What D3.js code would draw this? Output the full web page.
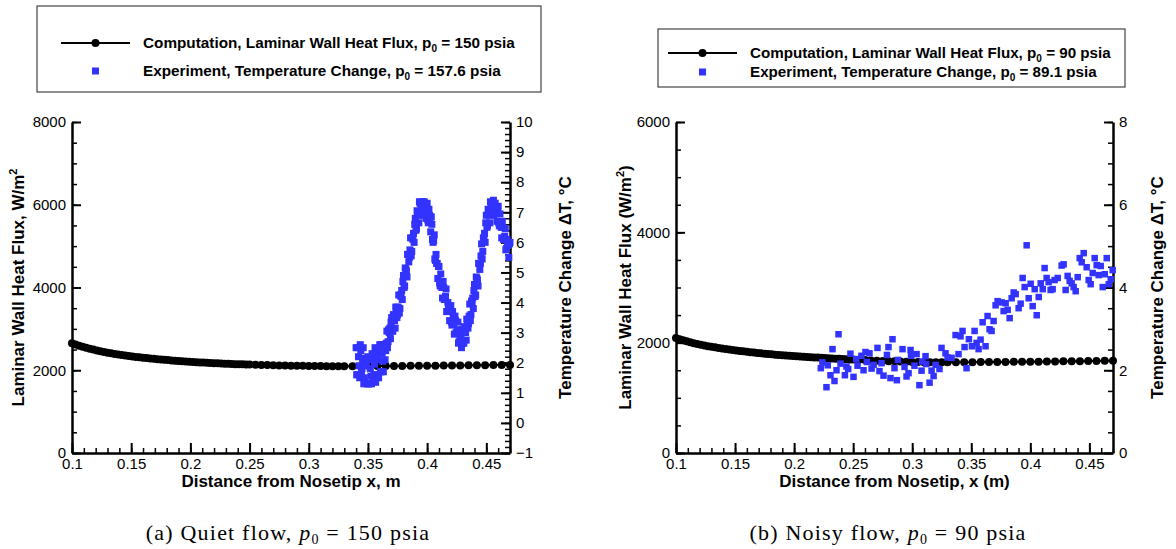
<!DOCTYPE html>
<html>
<head>
<meta charset="utf-8">
<script src="https://cdn.jsdelivr.net/npm/d3@7"></script>
<style>
body { margin: 0; background: #fff; }
svg { display: block; }
.tick text { font-family: "Liberation Sans", Arial, sans-serif; font-size: 15px; fill: #000; }
.domain { stroke: #000; stroke-width: 2.5; }
.tick line { stroke: #000; }
</style>
</head>
<body>
<svg width="1176" height="549"></svg>
<script>
// grid of the computation (same stations for both runs)
const compX = [0.100,0.103,0.106,0.109,0.112,0.115,0.118,0.121,0.124,0.127,0.130,0.133,0.136,0.139,0.142,0.145,0.148,
  0.151,0.154,0.157,0.160,0.163,0.166,0.169,0.172,0.175,0.178,0.181,0.184,0.187,0.190,0.193,0.196,0.199,
  0.202,0.205,0.208,0.211,0.214,0.217,0.220,0.223,0.226,0.229,0.232,0.235,0.238,0.241,0.244,0.247,0.250,
  0.255,0.260,0.265,0.270,0.275,0.280,0.285,0.290,0.295,0.300,0.305,0.310,0.315,0.320,0.325,0.330,
  0.337,0.344,0.351,0.358,0.365,0.372,0.379,0.386,0.393,0.400,0.407,0.414,0.421,0.428,0.435,0.442,0.449,0.456,0.463,0.470];

// (a) quiet flow, laminar wall heat flux W/m^2
const compQ_a = [2650,2620,2592,2566,2542,2520,2499,2479,2460,2442,2425,2409,2394,2380,2367,2355,2344,
  2333,2323,2313,2303,2294,2285,2276,2268,2260,2252,2245,2238,2231,2224,2218,2212,2206,
  2200,2195,2190,2185,2180,2175,2171,2167,2163,2159,2155,2151,2148,2145,2142,2139,2136,
  2132,2128,2124,2120,2117,2114,2111,2108,2106,2104,2102,2100,2099,2098,2097,2097,
  2097,2098,2099,2100,2101,2103,2104,2106,2107,2109,2111,2113,2115,2117,2119,2121,2123,2125,2127,2129];

// (b) noisy flow, laminar wall heat flux W/m^2
const compQ_b = [2085,2063,2043,2024,2007,1991,1976,1962,1949,1937,1926,1915,1905,1895,1886,1877,1869,
  1860,1851,1843,1835,1827,1820,1813,1806,1800,1794,1788,1782,1776,1771,1766,1763,1760,
  1755,1750,1745,1741,1737,1733,1729,1725,1721,1717,1713,1710,1707,1704,1700,1697,1694,
  1689,1684,1679,1674,1669,1665,1661,1657,1654,1651,1649,1647,1646,1645,1645,1645,
  1645,1646,1647,1648,1649,1650,1651,1652,1653,1655,1656,1658,1659,1661,1662,1664,1666,1668,1670,1672];

// (a) experiment, temperature change dT (C): two interleaved sweeps of the gauge row
const expX_a = [0.340,0.341,0.342,0.343,0.344,0.345,0.346,0.347,0.348,0.349,
  0.350,0.351,0.352,0.353,0.354,0.355,0.356,0.357,0.358,0.359,
  0.360,0.361,0.362,0.363,0.364,0.365,0.366,0.367,0.368,0.369,
  0.370,0.371,0.372,0.373,0.374,0.375,0.376,0.377,0.378,0.379,
  0.380,0.381,0.382,0.383,0.384,0.385,0.386,0.387,0.388,0.389,
  0.390,0.391,0.392,0.393,0.394,0.395,0.396,0.397,0.398,0.399,
  0.400,0.401,0.402,0.403,0.404,0.405,0.406,0.407,0.408,0.409,
  0.410,0.411,0.412,0.413,0.414,0.415,0.416,0.417,0.418,0.419,
  0.420,0.421,0.422,0.423,0.424,0.425,0.426,0.427,0.428,0.429,
  0.430,0.431,0.432,0.433,0.434,0.435,0.436,0.437,0.438,0.439,
  0.440,0.441,0.442,0.443,0.444,0.445,0.446,0.447,0.448,0.449,
  0.450,0.451,0.452,0.453,0.454,0.455,0.456,0.457,0.458,0.459,
  0.460,0.461,0.462,0.463,0.464,0.465,0.466,0.467,0.468,0.469,0.470,
  0.3405,0.3415,0.3425,0.3435,0.3445,0.3455,0.3465,0.3475,0.3485,0.3495,
  0.3505,0.3515,0.3525,0.3535,0.3545,0.3555,0.3565,0.3575,0.3585,0.3595,
  0.3605,0.3615,0.3625,0.3635,0.3645,0.3655,0.3665,0.3675,0.3685,0.3695,
  0.3705,0.3715,0.3725,0.3735,0.3745,0.3755,0.3765,0.3775,0.3785,0.3795,
  0.3805,0.3815,0.3825,0.3835,0.3845,0.3855,0.3865,0.3875,0.3885,0.3895,
  0.3905,0.3915,0.3925,0.3935,0.3945,0.3955,0.3965,0.3975,0.3985,0.3995,
  0.4005,0.4015,0.4025,0.4035,0.4045,0.4055,0.4065,0.4075,0.4085,0.4095,
  0.4105,0.4115,0.4125,0.4135,0.4145,0.4155,0.4165,0.4175,0.4185,0.4195,
  0.4205,0.4215,0.4225,0.4235,0.4245,0.4255,0.4265,0.4275,0.4285,0.4295,
  0.4305,0.4315,0.4325,0.4335,0.4345,0.4355,0.4365,0.4375,0.4385,0.4395,
  0.4405,0.4415,0.4425,0.4435,0.4445,0.4455,0.4465,0.4475,0.4485,0.4495,
  0.4505,0.4515,0.4525,0.4535,0.4545,0.4555,0.4565,0.4575,0.4585,0.4595,
  0.4605,0.4615,0.4625,0.4635,0.4645,0.4655,0.4665,0.4675,0.4685,0.4695];
const expDT_a = [2.5,1.6,2.2,1.5,2.4,1.8,2.5,1.5,1.9,1.3,
  2.2,1.3,1.8,1.3,2.1,1.6,2.5,1.6,2.1,1.5,
  2.6,1.7,2.3,1.7,2.6,2.4,3.05,2.7,3.0,2.8,
  3.5,3.05,3.5,3.15,3.8,3.6,4.25,3.8,4.2,4.1,
  4.9,4.55,5.1,4.85,5.6,5.5,6.15,5.7,6.1,6.0,
  6.8,6.45,7.0,6.65,7.3,7.1,7.35,7.0,7.2,6.8,
  7.3,6.65,6.9,6.35,6.6,6.0,6.25,5.4,5.3,4.8,
  5.2,4.55,4.7,4.15,4.5,4.1,4.45,3.7,3.8,3.4,
  3.9,3.25,3.5,2.95,3.4,3.0,3.35,2.7,2.8,2.5,
  3.1,2.65,3.1,2.75,3.4,3.3,3.95,3.6,4.0,3.8,
  4.6,4.25,4.8,4.55,5.3,5.3,5.95,5.7,6.1,6.0,
  6.9,6.55,7.0,6.65,7.3,7.1,7.4,7.0,7.1,6.7,
  7.2,6.55,6.7,6.15,6.5,6.1,6.45,5.8,5.9,5.5,6.0,
  1.6,2.5,1.9,2.6,1.7,2.05,1.3,2.15,2.0,2.15,
  1.3,2.15,1.55,2.3,1.45,1.95,1.35,2.3,2.2,2.45,
  1.7,2.6,2.05,2.6,2.1,2.65,2.5,3.1,3.15,3.35,
  3.05,3.6,3.4,3.85,3.5,3.85,3.65,4.25,4.4,4.7,
  4.5,5.15,5.05,5.6,5.35,5.75,5.55,6.15,6.3,6.6,
  6.4,7.05,6.9,7.35,7.0,7.25,6.9,7.35,7.25,7.25,
  6.75,7.1,6.7,6.85,6.1,6.05,5.45,5.6,5.3,5.2,
  4.65,4.95,4.5,4.7,4.1,4.2,3.7,4.0,3.85,3.85,
  3.35,3.7,3.3,3.55,3.0,3.1,2.65,3.0,2.9,3.0,
  2.65,3.2,3.0,3.45,3.15,3.55,3.4,4.05,4.15,4.4,
  4.2,4.85,4.75,5.3,5.1,5.55,5.45,6.15,6.3,6.65,
  6.5,7.1,6.9,7.35,7.0,7.25,6.9,7.3,7.15,7.15,
  6.65,6.95,6.5,6.7,6.1,6.2,5.75,6.1,5.95,5.95];

// (b) experiment, temperature change dT (C)
const expX_b = [0.2226,0.2240,0.2274,0.2285,0.2308,0.2325,0.2342,0.2359,0.2376,0.2393,
  0.2430,0.2443,0.2458,0.2477,0.2503,0.2526,0.2537,0.2570,0.2588,0.2604,
  0.2616,0.2638,0.2656,0.2673,0.2706,0.2723,0.2740,0.2757,0.2786,0.2799,
  0.2816,0.2833,0.2850,0.2870,0.2879,0.2918,0.2935,0.2952,0.2969,0.2986,
  0.2990,0.3019,0.3037,0.3061,0.3079,0.3085,0.3113,0.3118,0.3147,0.3164,
  0.3181,0.3198,0.3231,0.3248,0.3282,0.3299,0.3333,0.3367,0.3392,0.3409,
  0.3426,0.3443,0.3460,0.3480,0.3506,0.3528,0.3545,0.3562,0.3579,0.3596,
  0.3621,0.3638,0.3655,0.3672,0.3689,0.3706,0.3723,0.3757,0.3774,0.3791,
  0.3808,0.3825,0.3842,0.3859,0.3876,0.3901,0.3918,0.3935,0.3952,0.3969,
  0.3986,0.4003,0.4020,0.4037,0.4054,0.4071,0.4088,0.4105,0.4121,0.4138,
  0.4155,0.4172,0.4189,0.4206,0.4232,0.4265,0.4282,0.4299,0.4316,0.4333,
  0.4350,0.4367,0.4384,0.4401,0.4418,0.4435,0.4452,0.4477,0.4494,0.4511,
  0.4528,0.4545,0.4562,0.4579,0.4596,0.4613,0.4630,0.4647,0.4664,0.4681,0.4697];
const expDT_b = [2.05,2.19,1.59,2.12,1.88,2.51,1.74,2.00,2.87,2.16,
  1.88,2.09,2.03,2.40,1.84,2.27,2.11,2.35,2.00,2.44,
  2.20,2.41,2.04,2.13,2.54,1.98,2.17,1.87,2.37,2.56,
  1.81,2.75,2.05,1.76,2.25,2.51,2.08,1.85,1.93,2.49,
  2.35,2.11,2.39,1.64,1.99,2.21,2.34,2.15,1.70,1.99,
  1.86,2.13,2.03,2.54,2.41,2.31,2.30,2.85,2.39,2.82,
  2.95,2.56,2.05,2.75,2.58,2.95,2.66,2.51,2.74,3.16,
  2.58,3.31,2.99,2.95,3.19,3.57,3.67,3.64,3.43,3.62,
  3.46,3.26,3.74,3.88,3.84,3.50,3.61,4.23,4.01,5.02,
  3.74,4.09,3.55,3.96,3.33,3.77,4.10,3.96,4.47,4.23,
  4.13,3.94,3.96,4.18,4.23,4.53,4.56,3.94,4.28,4.16,
  4.10,4.01,3.91,4.25,4.71,4.61,4.83,4.49,4.18,4.08,
  4.35,4.71,4.54,4.30,4.52,4.01,4.32,4.71,4.08,4.20,4.42];

// tick labels
const xTicks = [0.1,0.15,0.2,0.25,0.3,0.35,0.4,0.45];
const qTicks_a = [0,2000,4000,6000,8000];
const dtTicks_a = [-1,0,1,2,3,4,5,6,7,8,9,10];
const qTicks_b = [0,2000,4000,6000];
const dtTicks_b = [0,2,4,6,8];

const blue = '#3333ff';
const font = '"Liberation Sans", Arial, sans-serif';
const svg = d3.select('svg');
const top_ = 122, bottom = 453;

function panel(o) {
  const g = svg.append('g');
  const x = d3.scaleLinear().domain([0.1, 0.47]).range([o.left, o.right]);
  const y = d3.scaleLinear().domain(o.qDomain).range([bottom, top_]);
  const y2 = d3.scaleLinear().domain(o.dtDomain).range([bottom, top_]);

  // minor ticks first
  const minor = (ax, vals) => ax.tickValues(vals).tickSize(-5).tickSizeOuter(0).tickFormat('');
  g.append('g').attr('transform', `translate(0,${bottom})`)
    .call(minor(d3.axisBottom(x), d3.range(0.1, 0.4701, 0.01)))
    .call(s => s.select('.domain').remove())
    .selectAll('line').attr('stroke-width', 1.5);
  g.append('g').attr('transform', `translate(${o.left},0)`)
    .call(minor(d3.axisLeft(y), d3.range(o.qDomain[0], o.qDomain[1] + 1, 500)))
    .call(s => s.select('.domain').remove())
    .selectAll('line').attr('stroke-width', 1.5);
  g.append('g').attr('transform', `translate(${o.right},0)`)
    .call(minor(d3.axisRight(y2), d3.range(o.dtDomain[0], o.dtDomain[1] + 0.01, o.dtMinor)))
    .call(s => s.select('.domain').remove())
    .selectAll('line').attr('stroke-width', 1.5);

  // major axes
  g.append('g').attr('transform', `translate(0,${bottom})`)
    .call(d3.axisBottom(x).tickValues(xTicks).tickSize(-10).tickSizeOuter(0).tickPadding(5)
      .tickFormat(d => String(+d.toFixed(2))))
    .selectAll('.tick line').attr('stroke-width', 2);
  g.append('g').attr('transform', `translate(${o.left},0)`)
    .call(d3.axisLeft(y).tickValues(o.qTicks).tickSize(-9).tickSizeOuter(0).tickPadding(6).tickFormat(d3.format('d')))
    .selectAll('.tick line').attr('stroke-width', 2);
  g.append('g').attr('transform', `translate(${o.right},0)`)
    .call(d3.axisRight(y2).tickValues(o.dtTicks).tickSize(-9).tickSizeOuter(0).tickPadding(6).tickFormat(d3.format('d')))
    .selectAll('.tick line').attr('stroke-width', 2);

  // computation: line with circles
  const comp = compX.map((d, i) => [d, o.compQ[i]]);
  g.append('path').datum(comp)
    .attr('fill', 'none').attr('stroke', '#000').attr('stroke-width', 2)
    .attr('d', d3.line().x(d => x(d[0])).y(d => y(d[1])));
  g.selectAll('.c').data(comp).enter().append('circle')
    .attr('cx', d => x(d[0])).attr('cy', d => y(d[1])).attr('r', 4).attr('fill', '#000');

  // experiment squares
  const s = o.sq;
  g.selectAll('.e').data(o.expX.map((d, i) => [d, o.expDT[i]])).enter().append('rect')
    .attr('x', d => x(d[0]) - s / 2).attr('y', d => y2(d[1]) - s / 2)
    .attr('width', s).attr('height', s).attr('fill', blue);

  // axis titles
  g.append('text').attr('x', (o.left + o.right) / 2).attr('y', 487)
    .attr('text-anchor', 'middle').attr('font-family', font).attr('font-weight', 'bold')
    .attr('font-size', 17).text(o.xTitle);
  const yt = g.append('text').attr('transform', `translate(${o.yTitleX},${(top_ + bottom) / 2}) rotate(-90)`)
    .attr('text-anchor', 'middle').attr('font-family', font).attr('font-weight', 'bold').attr('font-size', 17);
  yt.append('tspan').text(o.yTitle[0]);
  yt.append('tspan').attr('dy', -7).attr('font-size', 11).text('2');
  if (o.yTitle[1]) yt.append('tspan').attr('dy', 7).text(o.yTitle[1]);
  g.append('text').attr('transform', `translate(${o.y2TitleX},${(top_ + bottom) / 2}) rotate(-90)`)
    .attr('text-anchor', 'middle').attr('font-family', font).attr('font-weight', 'bold')
    .attr('font-size', 17).text('Temperature Change \u0394T, \u00B0C');

  // legend
  const L = o.legend;
  g.append('rect').attr('x', L.x0).attr('y', L.y0).attr('width', L.x1 - L.x0).attr('height', L.y1 - L.y0)
    .attr('fill', 'none').attr('stroke', '#444').attr('stroke-width', 1.2);
  g.append('line').attr('x1', L.lx0).attr('x2', L.lx1).attr('y1', L.r1).attr('y2', L.r1)
    .attr('stroke', '#000').attr('stroke-width', 2);
  g.append('circle').attr('cx', (L.lx0 + L.lx1) / 2).attr('cy', L.r1).attr('r', 4);
  g.append('rect').attr('x', (L.lx0 + L.lx1) / 2 - 3.5).attr('y', L.r2 - 3.5)
    .attr('width', 7).attr('height', 7).attr('fill', blue);
  [[L.r1, 'Computation, Laminar Wall Heat Flux, p', L.t1], [L.r2, 'Experiment, Temperature Change, p', L.t2]]
    .forEach(([ry, a, b]) => {
      const t = g.append('text').attr('x', L.tx).attr('y', ry + 5)
        .attr('font-family', font).attr('font-weight', 'bold').attr('font-size', L.fs);
      t.append('tspan').text(a);
      t.append('tspan').attr('dy', 4).attr('font-size', 10).text('0');
      t.append('tspan').attr('dy', -4).text(b);
    });

  // caption
  const c = g.append('text').attr('x', o.capX).attr('y', 540).attr('text-anchor', 'middle')
    .attr('font-family', '"Liberation Serif", "DejaVu Serif", serif').attr('font-size', 22)
    .attr('letter-spacing', 1.2);
  c.append('tspan').text(o.cap[0]);
  c.append('tspan').attr('font-style', 'italic').text('p');
  c.append('tspan').attr('dy', 4).attr('font-size', 14).text('0');
  c.append('tspan').attr('dy', -4).text(o.cap[1]);
}

panel({
  left: 72, right: 510, qDomain: [0, 8000], dtDomain: [-1, 10], dtMinor: 0.2, sq: 7,
  qTicks: qTicks_a, dtTicks: dtTicks_a, compQ: compQ_a, expX: expX_a, expDT: expDT_a,
  xTitle: 'Distance from Nosetip x, m', yTitle: ['Laminar Wall Heat Flux, W/m'], yTitleX: 24, y2TitleX: 571,
  legend: { x0: 37, y0: 6, x1: 541, y1: 92, lx0: 61, lx1: 130, r1: 43, r2: 71, tx: 143, fs: 15.3,
    t1: ' = 150 psia', t2: ' = 157.6 psia' },
  capX: 288, cap: ['(a) Quiet flow, ', ' = 150 psia']
});
panel({
  left: 676, right: 1113, qDomain: [0, 6000], dtDomain: [0, 8], dtMinor: 0.5, sq: 6.5,
  qTicks: qTicks_b, dtTicks: dtTicks_b, compQ: compQ_b, expX: expX_b, expDT: expDT_b,
  xTitle: 'Distance from Nosetip, x (m)', yTitle: ['Laminar Wall Heat Flux (W/m', ')'], yTitleX: 631, y2TitleX: 1163,
  legend: { x0: 658, y0: 29, x1: 1125, y1: 87, lx0: 668, lx1: 737, r1: 53, r2: 72, tx: 750, fs: 15.2,
    t1: ' = 90 psia', t2: ' = 89.1 psia' },
  capX: 888, cap: ['(b) Noisy flow, ', ' = 90 psia']
});
</script>
</body>
</html>
